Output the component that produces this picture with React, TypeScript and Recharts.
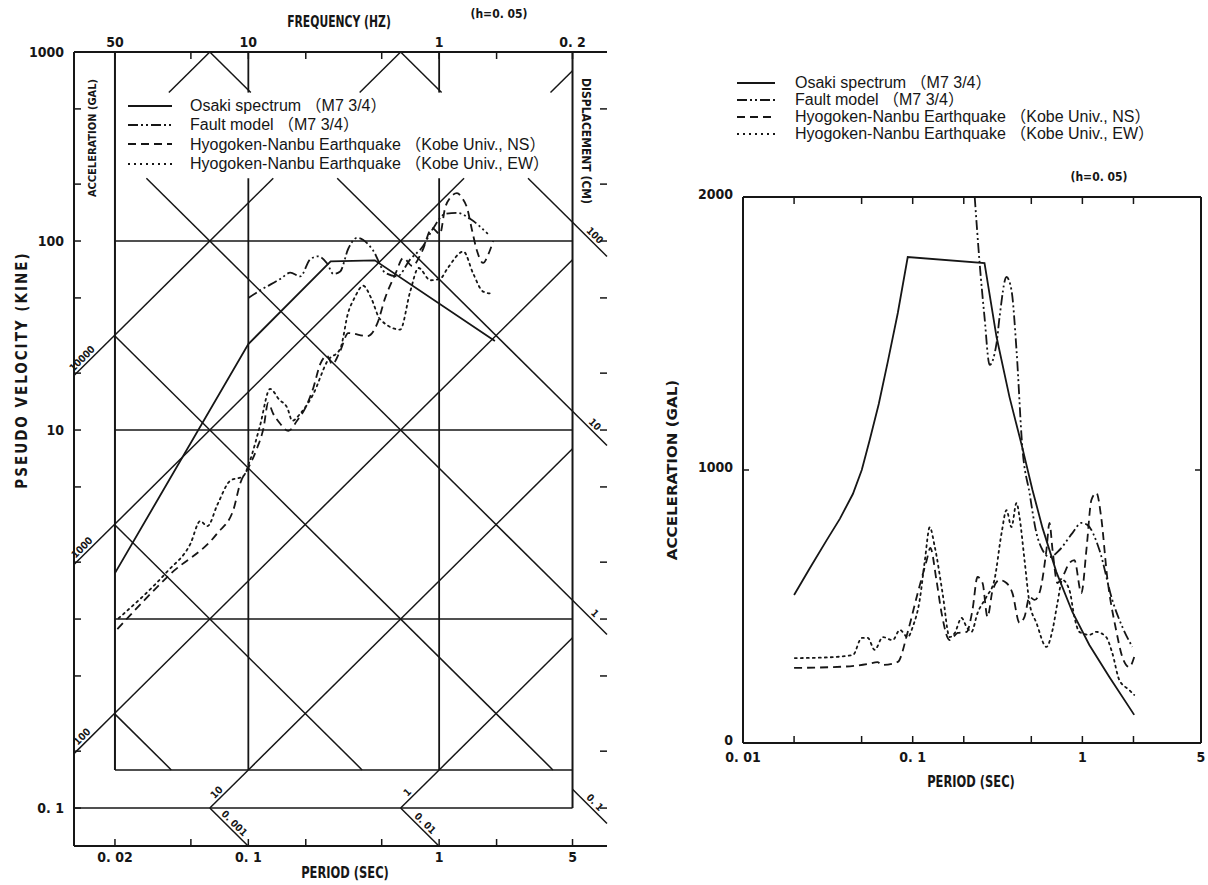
import React from 'react';
import { LineChart, Line, XAxis, YAxis, ReferenceLine, ReferenceDot, Legend } from 'recharts';

const INK = '#161616';
const TICK_FONT = "'DejaVu Sans Condensed', 'Liberation Sans Narrow', 'Liberation Sans', sans-serif";
const TEXT_FONT = "'Liberation Sans', 'Noto Sans CJK JP', sans-serif";

// legend entries, same four curves on both panels
const seriesNames = [
  'Osaki spectrum （M7 3/4）',
  'Fault model （M7 3/4）',
  'Hyogoken-Nanbu Earthquake （Kobe Univ., NS）',
  'Hyogoken-Nanbu Earthquake （Kobe Univ., EW）',
];
const seriesDash = [undefined, '10 3 2 3 2 3', '8 5', '2 4'];

// ---------- left panel: tripartite plot, pseudo velocity (kine) vs period (sec) ----------
const pvPeriodTicks = [0.02, 0.05, 0.1, 0.2, 0.5, 1, 2, 5];
const pvPeriodLabels: Record<string, string> = { '0.02': '0. 02', '0.1': '0. 1', '1': '1', '5': '5' };
const pvFreqLabels: Record<string, string> = { '0.02': '50', '0.1': '10', '1': '1', '5': '0. 2' };
const pvVelTicks = [0.1, 0.2, 0.5, 1, 2, 5, 10, 20, 50, 100, 200, 500, 1000];
const pvVelLabels: Record<string, string> = { '0.1': '0. 1', '10': '10', '100': '100', '1000': '1000' };

const osakiPV = [
  { t: 0.02, v: 1.75 }, { t: 0.1, v: 28.5 }, { t: 0.27, v: 78 }, { t: 0.46, v: 79 }, { t: 1.96, v: 29.6 },
];
const faultPV = [
  { t: 0.1, v: 50 }, { t: 0.116, v: 55 }, { t: 0.147, v: 63 }, { t: 0.166, v: 68 }, { t: 0.187, v: 65 },
  { t: 0.211, v: 80 }, { t: 0.232, v: 83 }, { t: 0.259, v: 76 }, { t: 0.279, v: 67 }, { t: 0.303, v: 69 },
  { t: 0.334, v: 91 }, { t: 0.372, v: 104 }, { t: 0.451, v: 89 }, { t: 0.521, v: 68 }, { t: 0.603, v: 65 },
  { t: 0.705, v: 80 }, { t: 0.824, v: 94 }, { t: 0.931, v: 117 }, { t: 1.075, v: 139 }, { t: 1.242, v: 141 },
  { t: 1.452, v: 131 }, { t: 1.8, v: 109 },
];
const nsPV = [
  { t: 0.0206, v: 0.885 }, { t: 0.039, v: 1.73 }, { t: 0.0689, v: 2.85 }, { t: 0.0834, v: 3.77 },
  { t: 0.0908, v: 5.25 }, { t: 0.1, v: 6.3 }, { t: 0.111, v: 8.0 }, { t: 0.12, v: 10.2 }, { t: 0.127, v: 13.9 },
  { t: 0.135, v: 12.2 }, { t: 0.147, v: 10.8 }, { t: 0.162, v: 9.9 }, { t: 0.18, v: 11.2 }, { t: 0.199, v: 13.1 },
  { t: 0.219, v: 16.7 }, { t: 0.238, v: 22.3 }, { t: 0.259, v: 24.7 }, { t: 0.275, v: 22.3 }, { t: 0.303, v: 26.2 },
  { t: 0.334, v: 32.6 }, { t: 0.42, v: 31.4 }, { t: 0.473, v: 36.4 }, { t: 0.521, v: 49.9 }, { t: 0.589, v: 66.8 },
  { t: 0.649, v: 81.3 }, { t: 0.723, v: 73.8 }, { t: 0.815, v: 88.5 }, { t: 0.919, v: 117 }, { t: 1.01, v: 109 },
  { t: 1.075, v: 150 }, { t: 1.14, v: 169 }, { t: 1.24, v: 179 }, { t: 1.32, v: 169 }, { t: 1.4, v: 150 },
  { t: 1.49, v: 113 }, { t: 1.58, v: 88.5 }, { t: 1.7, v: 76.6 }, { t: 1.81, v: 85 }, { t: 1.92, v: 100 },
];
const ewPV = [
  { t: 0.0209, v: 1.01 }, { t: 0.0377, v: 1.79 }, { t: 0.0497, v: 2.5 }, { t: 0.056, v: 3.3 }, { t: 0.061, v: 3.1 },
  { t: 0.069, v: 4.05 }, { t: 0.0805, v: 5.4 }, { t: 0.094, v: 5.7 }, { t: 0.102, v: 6.9 }, { t: 0.115, v: 10.5 },
  { t: 0.13, v: 16.5 }, { t: 0.145, v: 14.5 }, { t: 0.16, v: 13.1 }, { t: 0.17, v: 11.2 }, { t: 0.187, v: 12.2 },
  { t: 0.219, v: 15.5 }, { t: 0.26, v: 23.2 }, { t: 0.303, v: 26.9 }, { t: 0.334, v: 42 }, { t: 0.36, v: 50 },
  { t: 0.4, v: 58 }, { t: 0.44, v: 50 }, { t: 0.49, v: 38.6 }, { t: 0.625, v: 34 }, { t: 0.705, v: 54 },
  { t: 0.78, v: 72 }, { t: 0.9, v: 62 }, { t: 1.01, v: 63 }, { t: 1.11, v: 72 }, { t: 1.34, v: 88 },
  { t: 1.51, v: 67 }, { t: 1.7, v: 54 }, { t: 1.92, v: 52.5 },
];

// tripartite guide lines: constant acceleration (gal) and constant displacement (cm)
const TWO_PI = 2 * Math.PI;
const T_MIN = 0.0122;
const T_MAX = 7.58;
const V_MIN = 0.063;
const V_MAX = 1000;
const V_FLOOR = 1 / TWO_PI;
const GAP_LO = 215; // blank band behind the legend
const GAP_HI = 610;
const accelGuides = [1, 10, 100, 1000, 10000, 100000];
const dispGuides = [0.001, 0.01, 0.1, 1, 10, 100, 1000];
const guideBoxes = [
  { fam: 'AD', t: [0.02, 5], v: [V_FLOOR, GAP_LO] },
  { fam: 'AD', t: [0.02, 5], v: [GAP_HI, V_MAX] },
  { fam: 'A', t: [T_MIN, 0.02], v: [V_FLOOR, 100] },
  { fam: 'A', t: [0.02, 5], v: [0.1, V_FLOOR] },
  { fam: 'D', t: [5, T_MAX], v: [V_MIN, GAP_LO] },
  { fam: 'D', t: [0.02, 5], v: [V_MIN, 0.1] },
];
const periodRules = [
  { t: 0.02, spans: [[V_FLOOR, V_MAX]] },
  { t: 0.1, spans: [[V_FLOOR, GAP_LO], [GAP_HI, V_MAX]] },
  { t: 1, spans: [[V_FLOOR, GAP_LO], [GAP_HI, V_MAX]] },
  { t: 5, spans: [[0.1, V_MAX]] },
];
const velocityRules = [
  { v: 100, span: [0.02, 5] },
  { v: 10, span: [0.02, 5] },
  { v: 1, span: [0.02, 5] },
  { v: V_FLOOR, span: [0.02, 5] },
  { v: 0.1, span: [T_MIN, 5] },
];
const accelLabels = [
  { a: 10000, t: 0.0142, text: '10000' },
  { a: 1000, t: 0.0142, text: '1000' },
  { a: 100, t: 0.0142, text: '100' },
  { a: 10, t: 0.072, text: '10' },
  { a: 1, t: 0.72, text: '1' },
];
const dispLabels = [
  { d: 100, t: 6.2, text: '100' },
  { d: 10, t: 6.2, text: '10' },
  { d: 1, t: 6.2, text: '1' },
  { d: 0.1, t: 6.2, text: '0. 1' },
  { d: 0.001, t: 0.08, text: '0. 001' },
  { d: 0.01, t: 0.8, text: '0. 01' },
];

// ---------- right panel: acceleration (gal) vs period (sec) ----------
const accPeriodTicks = [0.01, 0.02, 0.05, 0.1, 0.2, 0.5, 1, 2, 5];
const accPeriodLabels: Record<string, string> = { '0.01': '0. 01', '0.1': '0. 1', '1': '1', '5': '5' };
const accTicks = [0, 1000, 2000];

const osakiSA = [
  { t: 0.02, a: 542 }, { t: 0.0248, a: 641 }, { t: 0.0312, a: 744 }, { t: 0.0372, a: 821 },
  { t: 0.0444, a: 912 }, { t: 0.0501, a: 1000 }, { t: 0.0558, a: 1110 }, { t: 0.0631, a: 1242 },
  { t: 0.0713, a: 1396 }, { t: 0.0817, a: 1575 }, { t: 0.0935, a: 1780 }, { t: 0.265, a: 1758 },
  { t: 0.312, a: 1487 }, { t: 0.372, a: 1267 }, { t: 0.443, a: 1081 }, { t: 0.508, a: 927 },
  { t: 0.582, a: 788 }, { t: 0.703, a: 626 }, { t: 0.873, a: 480 }, { t: 1.099, a: 359 },
  { t: 1.442, a: 242 }, { t: 2.02, a: 103 },
];
const faultSA = [
  { t: 0.232, a: 2000 }, { t: 0.248, a: 1758 }, { t: 0.265, a: 1560 }, { t: 0.284, a: 1385 },
  { t: 0.312, a: 1465 }, { t: 0.325, a: 1560 }, { t: 0.357, a: 1707 }, { t: 0.382, a: 1659 },
  { t: 0.409, a: 1440 }, { t: 0.443, a: 1081 }, { t: 0.488, a: 916 }, { t: 0.536, a: 769 },
  { t: 0.582, a: 707 }, { t: 0.64, a: 681 }, { t: 0.733, a: 707 }, { t: 0.873, a: 769 },
  { t: 0.986, a: 806 }, { t: 1.07, a: 799 }, { t: 1.26, a: 707 }, { t: 1.5, a: 524 },
  { t: 1.72, a: 425 }, { t: 1.97, a: 352 },
];
const nsSA = [
  { t: 0.02, a: 275 }, { t: 0.04, a: 280 }, { t: 0.055, a: 290 }, { t: 0.062, a: 296 }, { t: 0.066, a: 286 },
  { t: 0.0817, a: 297 }, { t: 0.0935, a: 407 }, { t: 0.107, a: 549 }, { t: 0.121, a: 670 }, { t: 0.127, a: 715 },
  { t: 0.138, a: 597 }, { t: 0.148, a: 476 }, { t: 0.165, a: 377 }, { t: 0.184, a: 403 }, { t: 0.208, a: 407 },
  { t: 0.225, a: 487 }, { t: 0.241, a: 608 }, { t: 0.258, a: 586 }, { t: 0.276, a: 462 }, { t: 0.296, a: 560 },
  { t: 0.325, a: 597 }, { t: 0.357, a: 586 }, { t: 0.387, a: 549 }, { t: 0.426, a: 440 }, { t: 0.456, a: 462 },
  { t: 0.488, a: 535 }, { t: 0.522, a: 524 }, { t: 0.558, a: 549 }, { t: 0.614, a: 707 }, { t: 0.64, a: 806 },
  { t: 0.667, a: 707 }, { t: 0.713, a: 586 }, { t: 0.762, a: 608 }, { t: 0.839, a: 659 }, { t: 0.897, a: 670 },
  { t: 0.986, a: 549 }, { t: 1.06, a: 718 }, { t: 1.13, a: 890 }, { t: 1.21, a: 916 }, { t: 1.29, a: 828 },
  { t: 1.4, a: 608 }, { t: 1.58, a: 414 }, { t: 1.72, a: 315 }, { t: 1.89, a: 278 }, { t: 2.02, a: 315 },
];
const ewSA = [
  { t: 0.0202, a: 311 }, { t: 0.03, a: 313 }, { t: 0.0444, a: 322 }, { t: 0.0501, a: 385 }, { t: 0.0543, a: 385 },
  { t: 0.0597, a: 341 }, { t: 0.0667, a: 388 }, { t: 0.0762, a: 377 }, { t: 0.084, a: 414 }, { t: 0.0935, a: 388 },
  { t: 0.1, a: 425 }, { t: 0.11, a: 524 }, { t: 0.118, a: 670 }, { t: 0.126, a: 790 }, { t: 0.135, a: 718 },
  { t: 0.15, a: 549 }, { t: 0.165, a: 388 }, { t: 0.177, a: 403 }, { t: 0.194, a: 458 }, { t: 0.208, a: 425 },
  { t: 0.222, a: 407 }, { t: 0.241, a: 476 }, { t: 0.272, a: 535 }, { t: 0.303, a: 597 }, { t: 0.334, a: 769 },
  { t: 0.357, a: 853 }, { t: 0.382, a: 791 }, { t: 0.409, a: 879 }, { t: 0.426, a: 828 }, { t: 0.456, a: 670 },
  { t: 0.488, a: 513 }, { t: 0.536, a: 440 }, { t: 0.614, a: 352 }, { t: 0.667, a: 414 }, { t: 0.713, a: 513 },
  { t: 0.762, a: 597 }, { t: 0.839, a: 560 }, { t: 0.897, a: 462 }, { t: 0.959, a: 407 }, { t: 1.1, a: 396 },
  { t: 1.21, a: 407 }, { t: 1.38, a: 388 }, { t: 1.5, a: 330 }, { t: 1.65, a: 231 }, { t: 1.89, a: 194 },
  { t: 2.02, a: 176 },
];

const labelFor = (labels: Record<string, string>) => (v: number) => labels[String(v)] ?? '';
const blank = () => '';
const tickText = { fill: INK, fontSize: 14, fontWeight: 700, fontFamily: TICK_FONT };
const axisLineStyle = { stroke: INK, strokeWidth: 2 };
const tickLineStyle = { stroke: INK, strokeWidth: 1.5 };

// short inward tick drawn from a reference dot
const tickMark = (dx: number, dy: number) => (p: any) => (
  <line x1={p.cx} y1={p.cy} x2={p.cx + dx} y2={p.cy + dy} stroke={INK} strokeWidth={1.5} />
);

// text placed at a reference dot, optionally rotated
const textAt = (text: string, opts: { dy?: number; angle?: number; size?: number }) => (props: any) => {
  const vb = props.viewBox || {};
  const cx = (vb.x ?? vb.cx ?? 0) + (vb.width ?? 0) / 2;
  const cy = (vb.y ?? vb.cy ?? 0) + (vb.height ?? 0) / 2;
  const angle = opts.angle ?? 0;
  return (
    <text
      x={cx}
      y={cy}
      dy={opts.dy ?? 0}
      transform={angle ? `rotate(${angle} ${cx} ${cy})` : undefined}
      textAnchor="middle"
      fontSize={opts.size ?? 10}
      fontWeight={700}
      fontFamily={TICK_FONT}
      fill={INK}
    >
      {text}
    </text>
  );
};

// clip each constant-A / constant-D line to the boxes where the original draws it
function guideSegments() {
  const segs: { key: string; p: { x: number; y: number }[] }[] = [];
  guideBoxes.forEach((b, bi) => {
    if (b.fam.includes('A')) {
      accelGuides.forEach((a) => {
        const t0 = Math.max(b.t[0], (TWO_PI * b.v[0]) / a);
        const t1 = Math.min(b.t[1], (TWO_PI * b.v[1]) / a);
        if (t1 > t0 * 1.001) {
          segs.push({ key: `a${a}-${bi}`, p: [{ x: t0, y: (a * t0) / TWO_PI }, { x: t1, y: (a * t1) / TWO_PI }] });
        }
      });
    }
    if (b.fam.includes('D')) {
      dispGuides.forEach((d) => {
        const t0 = Math.max(b.t[0], (TWO_PI * d) / b.v[1]);
        const t1 = Math.min(b.t[1], (TWO_PI * d) / b.v[0]);
        if (t1 > t0 * 1.001) {
          segs.push({ key: `d${d}-${bi}`, p: [{ x: t0, y: (TWO_PI * d) / t0 }, { x: t1, y: (TWO_PI * d) / t1 }] });
        }
      });
    }
  });
  return segs;
}

function LegendBox({ sampleWidth, gap, rowHeight }: { sampleWidth: number; gap: number; rowHeight: number }) {
  return (
    <div style={{ fontFamily: TEXT_FONT, fontSize: 16, color: INK, lineHeight: `${rowHeight}px` }}>
      {seriesNames.map((name, i) => (
        <div key={name} style={{ display: 'flex', alignItems: 'center', whiteSpace: 'nowrap', height: rowHeight }}>
          <svg width={sampleWidth} height={6} style={{ marginRight: gap, flex: 'none' }}>
            <line x1={0} x2={sampleWidth} y1={3} y2={3} stroke={INK} strokeWidth={1.8} strokeDasharray={seriesDash[i]} />
          </svg>
          <span>{name}</span>
        </div>
      ))}
    </div>
  );
}

function TripartiteChart() {
  const segs = guideSegments();
  return (
    <LineChart width={640} height={885} margin={{ top: 22, right: 0, bottom: 9, left: 14 }}>
      <XAxis
        type="number" dataKey="t" scale="log" domain={[T_MIN, T_MAX]} allowDataOverflow
        ticks={pvPeriodTicks} interval={0} tickFormatter={labelFor(pvPeriodLabels)}
        height={30} tickSize={-7} tickMargin={13} axisLine={axisLineStyle} tickLine={tickLineStyle} tick={tickText}
      />
      <XAxis
        xAxisId="freq" orientation="top" type="number" dataKey="t" scale="log" domain={[T_MIN, T_MAX]} allowDataOverflow
        height={30} axisLine={axisLineStyle} tickLine={false} tick={false}
      />
      <YAxis
        type="number" scale="log" domain={[V_MIN, V_MAX]} allowDataOverflow
        ticks={pvVelTicks} interval={0} tickFormatter={labelFor(pvVelLabels)}
        width={60} tickSize={-7} tickMargin={17} axisLine={axisLineStyle} tickLine={tickLineStyle} tick={tickText}
      />
      <YAxis
        yAxisId="disp" orientation="right" type="number" scale="log" domain={[V_MIN, V_MAX]} allowDataOverflow
        ticks={pvVelTicks} interval={0} tickFormatter={blank}
        width={33} tickSize={-7} axisLine={false} tickLine={tickLineStyle} tick={tickText}
      />

      {segs.map((s) => (
        <ReferenceLine key={s.key} segment={s.p} stroke={INK} strokeWidth={1.5} ifOverflow="visible" />
      ))}
      {periodRules.flatMap((r) =>
        r.spans.map((sp, i) => (
          <ReferenceLine
            key={`pt${r.t}-${i}`}
            segment={[{ x: r.t, y: sp[0] }, { x: r.t, y: sp[1] }]}
            stroke={INK} strokeWidth={r.t === 0.02 || r.t === 5 ? 2 : 1.8} ifOverflow="visible"
          />
        ))
      )}
      {velocityRules.map((r) => (
        <ReferenceLine
          key={`pv${r.v}`}
          segment={[{ x: r.span[0], y: r.v }, { x: r.span[1], y: r.v }]}
          stroke={INK} strokeWidth={1.5} ifOverflow="visible"
        />
      ))}
      {accelLabels.map((l) => (
        <ReferenceDot
          key={`la${l.a}`} x={l.t} y={(l.a * l.t) / TWO_PI} r={0} fill="none" stroke="none"
          ifOverflow="visible" label={textAt(l.text, { dy: -3, angle: -45 })}
        />
      ))}
      {dispLabels.map((l) => (
        <ReferenceDot
          key={`ld${l.d}`} x={l.t} y={(TWO_PI * l.d) / l.t} r={0} fill="none" stroke="none"
          ifOverflow="visible" label={textAt(l.text, { dy: -3, angle: 45 })}
        />
      ))}
      {/* frequency scale along the top frame */}
      {pvPeriodTicks.map((t) => (
        <ReferenceDot
          key={`ft${t}`} x={t} y={V_MAX} r={0} ifOverflow="visible"
          shape={tickMark(0, 7)} label={textAt(pvFreqLabels[String(t)] ?? '', { dy: -5, size: 14 })}
        />
      ))}

      <Line data={osakiPV} dataKey="v" name={seriesNames[0]} type="linear" stroke={INK} strokeWidth={1.8} dot={false} isAnimationActive={false} />
      <Line data={faultPV} dataKey="v" name={seriesNames[1]} type="monotone" stroke={INK} strokeWidth={1.8} strokeDasharray={seriesDash[1]} dot={false} isAnimationActive={false} />
      <Line data={nsPV} dataKey="v" name={seriesNames[2]} type="monotone" stroke={INK} strokeWidth={1.8} strokeDasharray={seriesDash[2]} dot={false} isAnimationActive={false} />
      <Line data={ewPV} dataKey="v" name={seriesNames[3]} type="monotone" stroke={INK} strokeWidth={1.8} strokeDasharray={seriesDash[3]} strokeLinecap="round" dot={false} isAnimationActive={false} />

      <Legend
        layout="horizontal" verticalAlign="middle" align="center"
        wrapperStyle={{ left: 128, top: 96, width: 'auto' }}
        content={() => <LegendBox sampleWidth={44} gap={18} rowHeight={19.3} />}
      />
    </LineChart>
  );
}

function AccelerationChart() {
  return (
    <LineChart width={568} height={885} margin={{ top: 187, right: 0, bottom: 112, left: 43 }}>
      <XAxis
        type="number" dataKey="t" scale="log" domain={[0.01, 5]} allowDataOverflow
        ticks={accPeriodTicks} interval={0} tickFormatter={labelFor(accPeriodLabels)}
        height={30} tickSize={-7} tickMargin={16} axisLine={axisLineStyle} tickLine={tickLineStyle} tick={tickText}
      />
      <XAxis
        xAxisId="top" orientation="top" type="number" dataKey="t" scale="log" domain={[0.01, 5]} allowDataOverflow
        height={10} axisLine={axisLineStyle} tickLine={false} tick={false}
      />
      <YAxis
        type="number" domain={[0, 2000]} ticks={accTicks} interval={0}
        width={60} tickSize={-6} tickMargin={16} axisLine={axisLineStyle} tickLine={tickLineStyle}
        tick={{ ...tickText, dy: -3 }}
      />
      <YAxis
        yAxisId="rt" orientation="right" type="number" domain={[0, 2000]} allowDataOverflow
        width={7} axisLine={axisLineStyle} tickLine={false} tick={false}
      />
      {accPeriodTicks.slice(1, -1).map((t) => (
        <ReferenceDot key={`tt${t}`} x={t} y={2000} r={0} ifOverflow="visible" shape={tickMark(0, 7)} />
      ))}
      <ReferenceDot x={5} y={1000} r={0} ifOverflow="visible" shape={tickMark(-6, 0)} />

      <Line data={osakiSA} dataKey="a" name={seriesNames[0]} type="linear" stroke={INK} strokeWidth={1.8} dot={false} isAnimationActive={false} />
      <Line data={faultSA} dataKey="a" name={seriesNames[1]} type="monotone" stroke={INK} strokeWidth={1.8} strokeDasharray={seriesDash[1]} dot={false} isAnimationActive={false} />
      <Line data={nsSA} dataKey="a" name={seriesNames[2]} type="monotone" stroke={INK} strokeWidth={1.8} strokeDasharray={seriesDash[2]} dot={false} isAnimationActive={false} />
      <Line data={ewSA} dataKey="a" name={seriesNames[3]} type="monotone" stroke={INK} strokeWidth={1.8} strokeDasharray={seriesDash[3]} strokeLinecap="round" dot={false} isAnimationActive={false} />

      <Legend
        layout="horizontal" verticalAlign="middle" align="center"
        wrapperStyle={{ left: 97, top: 74, width: 'auto' }}
        content={() => <LegendBox sampleWidth={38} gap={20} rowHeight={17} />}
      />
    </LineChart>
  );
}

function Caption({ x, y, text, size, rotate = 0, stretch = 1, spacing = 0 }: { x: number; y: number; text: string; size: number; rotate?: number; stretch?: number; spacing?: number }) {
  return (
    <div
      style={{
        position: 'absolute', left: x, top: y,
        transform: `translate(-50%, -50%) rotate(${rotate}deg) scaleX(${stretch})`,
        whiteSpace: 'nowrap', fontFamily: TICK_FONT, fontWeight: 700, fontSize: size, lineHeight: 1, color: INK,
        letterSpacing: spacing,
      }}
    >
      {text}
    </div>
  );
}

export default function App() {
  return (
    <div style={{ position: 'absolute', left: 0, top: 0, width: 1208, height: 885, background: '#fff', overflow: 'hidden' }}>
      <div style={{ position: 'absolute', left: 0, top: 0 }}>
        <TripartiteChart />
      </div>
      <div style={{ position: 'absolute', left: 640, top: 0 }}>
        <AccelerationChart />
      </div>
      <Caption x={339} y={22} text="FREQUENCY (HZ)" size={15} stretch={0.8} />
      <Caption x={499} y={14} text="(h=0. 05)" size={12} />
      <Caption x={345} y={873} text="PERIOD (SEC)" size={15} stretch={0.85} />
      <Caption x={22} y={370} text="PSEUDO VELOCITY (KINE)" size={15} rotate={-90} spacing={2} />
      <Caption x={92} y={138} text="ACCELERATION (GAL)" size={11} rotate={-90} />
      <Caption x={586} y={141} text="DISPLACEMENT (CM)" size={12} rotate={90} />
      <Caption x={672} y={470} text="ACCELERATION (GAL)" size={14} rotate={-90} stretch={1.2} />
      <Caption x={971} y={782} text="PERIOD (SEC)" size={15} stretch={0.85} />
      <Caption x={1099} y={177} text="(h=0. 05)" size={12} />
    </div>
  );
}
